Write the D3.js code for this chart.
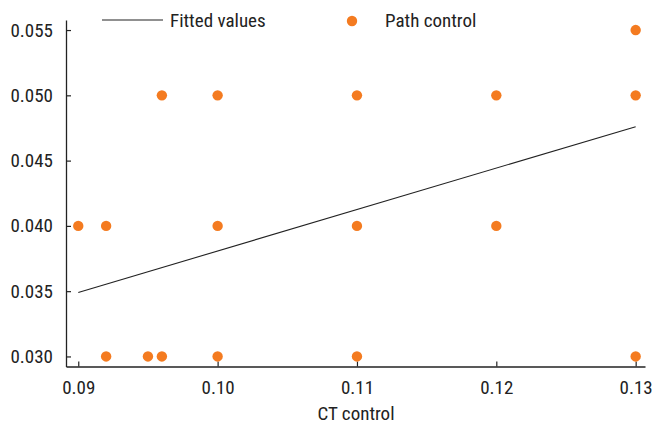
<!DOCTYPE html>
<html><head><meta charset="utf-8">
<script src="https://cdn.jsdelivr.net/npm/d3@7"></script>
<style>
body{margin:0;background:#fff;}
text{font-family:"Liberation Sans Narrow","Roboto Condensed","Arial Narrow",Roboto,sans-serif;fill:#222;}
</style></head>
<body><svg id="c" width="654" height="425"></svg>
<script>
// Data
const ctControl   = [0.090,0.092,0.092,0.095,0.096,0.096,0.100,0.100,0.100,0.110,0.110,0.110,0.120,0.120,0.130,0.130,0.130];
const pathControl = [0.040,0.040,0.030,0.030,0.030,0.050,0.050,0.040,0.030,0.050,0.040,0.030,0.050,0.040,0.055,0.050,0.030];
const fitX = [0.090, 0.130];
const fitY = [0.0349, 0.0476];
const xTicks = [0.09,0.10,0.11,0.12,0.13];
const yTicks = [0.030,0.035,0.040,0.045,0.050,0.055];
const xTitle = "CT control";
const legendLabels = ["Fitted values","Path control"];

const svg = d3.select("#c");
const x = d3.scaleLinear().domain([0.08912,0.13067]).range([66,645]);
const y = d3.scaleLinear().domain([0.02923,0.05577]).range([366.5,20]);

const fs = 19;
// axes
const xa = svg.append("g").attr("transform","translate(0,366.5)")
  .call(d3.axisBottom(x).tickValues(xTicks).tickFormat(d3.format(".2f")).tickSizeInner(-5).tickSizeOuter(0).tickPadding(14));
const ya = svg.append("g").attr("transform","translate(66,0)")
  .call(d3.axisLeft(y).tickValues(yTicks).tickFormat(d3.format(".3f")).tickSizeInner(-5).tickSizeOuter(0).tickPadding(13));
[xa,ya].forEach(a=>{
  a.attr("font-family",null);
  a.select(".domain").attr("stroke","#222").attr("stroke-width",1.3);
  a.selectAll(".tick line").attr("stroke","#222").attr("stroke-width",1.2);
  a.selectAll(".tick text").attr("font-size",fs).attr("fill","#222");
});

// fitted line
svg.append("line")
  .attr("x1",x(fitX[0])).attr("y1",y(fitY[0]))
  .attr("x2",x(fitX[1])).attr("y2",y(fitY[1]))
  .attr("stroke","#222").attr("stroke-width",1.1);

// points
svg.append("g").selectAll("circle").data(ctControl.map((v,i)=>[v,pathControl[i]]))
  .join("circle").attr("cx",d=>x(d[0])).attr("cy",d=>y(d[1])).attr("r",5.2).attr("fill","#f47b20");

// x title
svg.append("text").attr("x",356).attr("y",420).attr("text-anchor","middle").attr("font-size",fs).text(xTitle);

// legend
svg.append("line").attr("x1",102).attr("x2",163).attr("y1",20).attr("y2",20).attr("stroke","#222").attr("stroke-width",1.1);
svg.append("text").attr("x",170).attr("y",27).attr("font-size",fs).text(legendLabels[0]);
svg.append("circle").attr("cx",352).attr("cy",21).attr("r",5.2).attr("fill","#f47b20");
svg.append("text").attr("x",385).attr("y",27).attr("font-size",fs).text(legendLabels[1]);
</script></body></html>
